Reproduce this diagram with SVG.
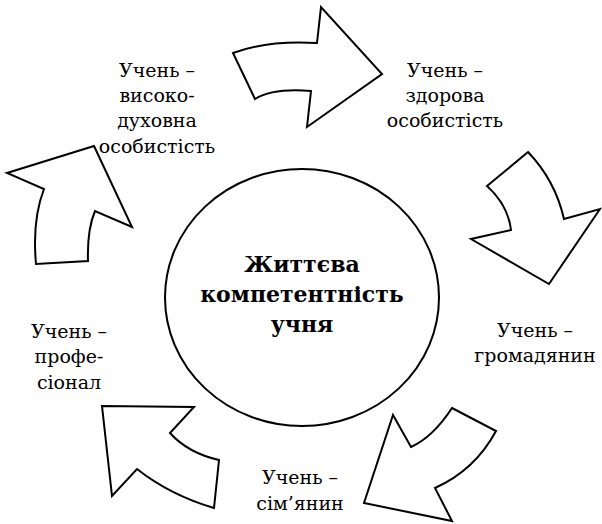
<svg xmlns="http://www.w3.org/2000/svg" width="602" height="524" viewBox="0 0 602 524">
<style>
.arrow{fill:#fff;stroke:#000;stroke-width:2;stroke-linejoin:miter}
text{font-family:'DejaVu Serif','Liberation Serif',serif;fill:#000;text-anchor:middle}
.lbl{font-size:19px}
.ttl{font-size:22px;font-weight:bold}
</style>
<rect width="602" height="524" fill="#fff"/>
<g id="connectors">
<path id="arrow-top" class="arrow" d="M233,53 Q268,40 317,43 L321,7 L382,74 L307,127 L311,91 Q273,88 255,99 Z"/>
<path id="arrow-right" class="arrow" d="M528,152 Q555,180 564,219 L600,209 L549,284 L471,239 L511,230 Q508,205 487,186 Z"/>
<path id="arrow-bottom-right" class="arrow" d="M452,408 L496,431 Q475,470 435,488 L452,521 L364,503 L393,415 L411,447 Q433,437 452,408 Z"/>
<path id="arrow-bottom-left" class="arrow" d="M102,406 L194,407 L170,433 Q188,453 219,460 L214,508 Q170,495 137,469 L112,496 Z"/>
<path id="arrow-left" class="arrow" d="M94,146 L132,227 L95,211 Q87,230 88,261 L36,264 Q32,220 44,189 L7,173 Z"/>
</g>
<g id="center">
<ellipse cx="302" cy="297.5" rx="137" ry="128.5" fill="#fff" stroke="#000" stroke-width="2"/>
<text class="ttl" x="302" y="272">Життєва</text>
<text class="ttl" x="302" y="302">компетентність</text>
<text class="ttl" x="302" y="332">учня</text>
</g>
<g id="node-spiritual">
<text class="lbl" x="157" y="77">Учень –</text>
<text class="lbl" x="157" y="102">високо-</text>
<text class="lbl" x="157" y="127">духовна</text>
<text class="lbl" x="157" y="153">особистість</text>
</g>
<g id="node-healthy">
<text class="lbl" x="445" y="77">Учень –</text>
<text class="lbl" x="445" y="102">здорова</text>
<text class="lbl" x="445" y="127">особистість</text>
</g>
<g id="node-citizen">
<text class="lbl" x="535" y="337">Учень –</text>
<text class="lbl" x="535" y="362">громадянин</text>
</g>
<g id="node-family">
<text class="lbl" x="300" y="484">Учень –</text>
<text class="lbl" x="300" y="510">сім’янин</text>
</g>
<g id="node-professional">
<text class="lbl" x="69" y="338">Учень –</text>
<text class="lbl" x="69" y="363">профе-</text>
<text class="lbl" x="69" y="389">сіонал</text>
</g>
</svg>
